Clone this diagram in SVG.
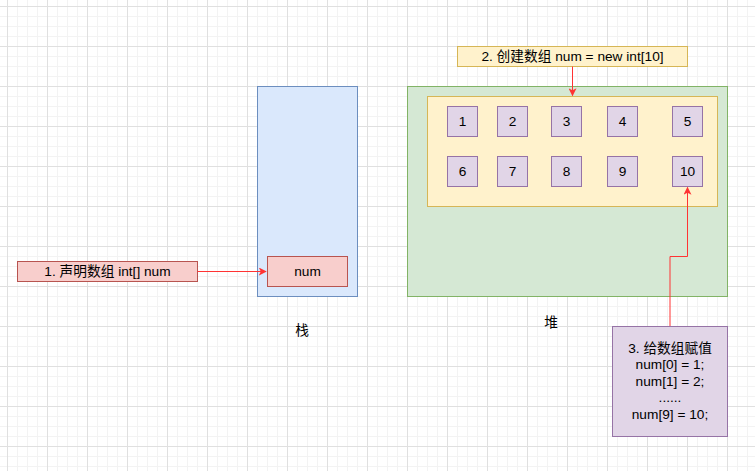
<svg xmlns="http://www.w3.org/2000/svg" width="755" height="471" viewBox="0 0 755 471">
<defs>
<pattern id="minor" width="10" height="10" patternUnits="userSpaceOnUse" x="7" y="6">
<path d="M0 0.5H10M0.5 0V10" fill="none" stroke="#f3f3f3" stroke-width="1"/>
</pattern>
<pattern id="major" width="40" height="40" patternUnits="userSpaceOnUse" x="7" y="6">
<path d="M0 0.5H40M0.5 0V40" fill="none" stroke="#e0e0e0" stroke-width="1"/>
</pattern>
<marker id="arr" viewBox="0 0 10 10" refX="9" refY="5" markerWidth="8" markerHeight="8" markerUnits="userSpaceOnUse" orient="auto">
<path d="M0 0L10 5L0 10L2.5 5Z" fill="#ff3333"/>
</marker>
</defs>
<style>
text{font-family:"Liberation Sans","Noto Sans CJK SC",sans-serif;font-size:13.7px;fill:#000;text-anchor:middle;dominant-baseline:central}
.red{fill:#f8cecc;stroke:#b85450}
.blue{fill:#dae8fc;stroke:#6c8ebf}
.green{fill:#d5e8d4;stroke:#82b366}
.yellow{fill:#fff2cc;stroke:#d6b656}
.purple{fill:#e1d5e7;stroke:#9673a6}
.conn{fill:none;stroke:#ff3333;stroke-width:1}
</style>
<rect width="755" height="471" fill="#ffffff"/>
<rect width="755" height="471" fill="url(#minor)"/>
<rect width="755" height="471" fill="url(#major)"/>

<g id="stack">
<rect class="blue" x="257.5" y="86.5" width="100" height="210"/>
</g>
<g id="stack-label"><text x="302" y="330">栈</text></g>
<g id="num">
<rect class="red" x="267.5" y="256.5" width="80" height="30"/>
<text x="307.5" y="271.5">num</text>
</g>
<g id="step1">
<rect class="red" x="17.5" y="261.5" width="180" height="20"/>
<text x="107.5" y="271.5">1. 声明数组 int[] num</text>
</g>

<g id="heap">
<rect class="green" x="407.5" y="86.5" width="320" height="210"/>
</g>
<g id="heap-label"><text x="551" y="322">堆</text></g>
<g id="array">
<rect class="yellow" x="427.5" y="96.5" width="290" height="110"/>
</g>
<g id="c1"><rect class="purple" x="447.5" y="106.5" width="30" height="30"/><text x="462.5" y="121.5">1</text></g>
<g id="c2"><rect class="purple" x="497.5" y="106.5" width="30" height="30"/><text x="512.5" y="121.5">2</text></g>
<g id="c3"><rect class="purple" x="551.5" y="106.5" width="30" height="30"/><text x="566.5" y="121.5">3</text></g>
<g id="c4"><rect class="purple" x="607.5" y="106.5" width="30" height="30"/><text x="622.5" y="121.5">4</text></g>
<g id="c5"><rect class="purple" x="672.5" y="106.5" width="30" height="30"/><text x="687.5" y="121.5">5</text></g>
<g id="c6"><rect class="purple" x="447.5" y="156.5" width="30" height="30"/><text x="462.5" y="171.5">6</text></g>
<g id="c7"><rect class="purple" x="497.5" y="156.5" width="30" height="30"/><text x="512.5" y="171.5">7</text></g>
<g id="c8"><rect class="purple" x="551.5" y="156.5" width="30" height="30"/><text x="566.5" y="171.5">8</text></g>
<g id="c9"><rect class="purple" x="607.5" y="156.5" width="30" height="30"/><text x="622.5" y="171.5">9</text></g>
<g id="c10"><rect class="purple" x="672.5" y="156.5" width="30" height="30"/><text x="687.5" y="171.5">10</text></g>

<g id="step2">
<rect class="yellow" x="457.5" y="46.5" width="230" height="20"/>
<text x="572.5" y="56.5">2. 创建数组 num = new int[10]</text>
</g>

<g id="step3">
<rect class="purple" x="612.5" y="326.5" width="115" height="110"/>
<text x="670" y="348">3. 给数组赋值</text>
<text x="670" y="364.5">num[0] = 1;</text>
<text x="670" y="381">num[1] = 2;</text>
<text x="670" y="397">......</text>
<text x="670" y="414">num[9] = 10;</text>
</g>

<g id="connectors">
<path class="conn" d="M197.5 271.5H266" marker-end="url(#arr)"/>
<path class="conn" d="M572.5 66.5V95.5" marker-end="url(#arr)"/>
<path class="conn" d="M670 326V256.5H687.5V187.5" marker-end="url(#arr)"/>
</g>
</svg>
